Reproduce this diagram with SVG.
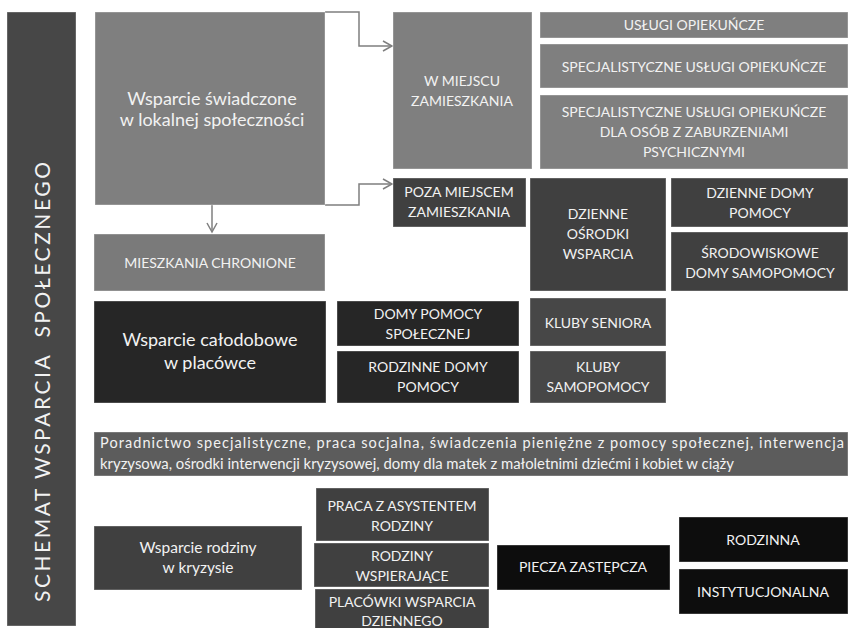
<svg xmlns="http://www.w3.org/2000/svg" width="848" height="628" viewBox="0 0 848 628">
<defs>
<style>
rect{stroke:#ffffff;stroke-opacity:0.35;stroke-width:1}
.l{fill:#7f7f7f}
.m{fill:#5c5c5c}
.d{fill:#404040}
.k{fill:#474747}
.x{fill:#262626}
.b{fill:#0d0d0d}
text{font-family:Lato,"Open Sans","Liberation Sans",sans-serif;fill:#f2f2f2;text-anchor:middle}
.c{font-size:14px}
.big{font-size:18px}
.med{font-size:15.5px}
.just{font-size:14.5px;text-anchor:start}
.conn{fill:none;stroke:#7f7f7f;stroke-width:1.5}
</style>
<marker id="arr" markerWidth="12" markerHeight="12" refX="10" refY="6" orient="auto" markerUnits="userSpaceOnUse">
<path d="M1,1 L10,6 L1,11" fill="none" stroke="#7f7f7f" stroke-width="1.5"/>
</marker>
</defs>

<g id="title">
<rect x="7" y="12" width="69" height="614" fill="#474747"/>
<text transform="translate(50,382) rotate(-90)" style="font-size:21px" textLength="440" lengthAdjust="spacing" xml:space="preserve">SCHEMAT WSPARCIA  SPOŁECZNEGO</text>
</g>

<g id="connectors">
<path class="conn" d="M325,12 H359 V46 H392" marker-end="url(#arr)"/>
<path class="conn" d="M325,205 H359 V184 H392" marker-end="url(#arr)"/>
<path class="conn" d="M212,205 V232" marker-end="url(#arr)"/>
</g>

<g id="lokalna">
<rect class="l" x="95" y="12" width="230" height="193"/>
<text class="big" x="212" y="105">Wsparcie świadczone</text>
<text class="big" x="212" y="126">w lokalnej społeczności</text>
</g>
<g id="mieszkania">
<rect class="l" x="94" y="234" width="231" height="57" style="fill:#7a7a7a"/>
<text class="c" x="210" y="268">MIESZKANIA CHRONIONE</text>
</g>
<g id="w-miejscu">
<rect class="l" x="393" y="12" width="139" height="157"/>
<text class="c" x="462" y="86">W MIEJSCU</text>
<text class="c" x="462" y="106">ZAMIESZKANIA</text>
</g>
<g id="uslugi">
<rect class="l" x="540" y="12" width="308" height="26"/>
<text class="c" x="694" y="30">USŁUGI OPIEKUŃCZE</text>
</g>
<g id="spec">
<rect class="l" x="540" y="44" width="308" height="44"/>
<text class="c" x="694" y="72">SPECJALISTYCZNE USŁUGI OPIEKUŃCZE</text>
</g>
<g id="spec-psych">
<rect class="l" x="540" y="95" width="308" height="74"/>
<text class="c" x="694" y="117">SPECJALISTYCZNE USŁUGI OPIEKUŃCZE</text>
<text class="c" x="694" y="137">DLA OSÓB Z ZABURZENIAMI</text>
<text class="c" x="694" y="157">PSYCHICZNYMI</text>
</g>
<g id="poza">
<rect class="d" x="393" y="178" width="133" height="49"/>
<text class="c" x="459" y="197">POZA MIEJSCEM</text>
<text class="c" x="459" y="217">ZAMIESZKANIA</text>
</g>
<g id="osrodki">
<rect class="d" x="530" y="178" width="136" height="113"/>
<text class="c" x="598" y="219">DZIENNE</text>
<text class="c" x="598" y="239">OŚRODKI</text>
<text class="c" x="598" y="259">WSPARCIA</text>
</g>
<g id="dzienne-domy">
<rect class="d" x="671" y="178" width="177" height="49"/>
<text class="c" x="760" y="198">DZIENNE DOMY</text>
<text class="c" x="760" y="218">POMOCY</text>
</g>
<g id="srodowiskowe">
<rect class="d" x="671" y="232" width="177" height="59"/>
<text class="c" x="760" y="258">ŚRODOWISKOWE</text>
<text class="c" x="760" y="278">DOMY SAMOPOMOCY</text>
</g>
<g id="calodobowe">
<rect class="x" x="94" y="301" width="232" height="102"/>
<text class="big" x="210" y="346">Wsparcie całodobowe</text>
<text class="big" x="210" y="369">w placówce</text>
</g>
<g id="dps">
<rect class="x" x="337" y="301" width="182" height="45"/>
<text class="c" x="428" y="319">DOMY POMOCY</text>
<text class="c" x="428" y="339">SPOŁECZNEJ</text>
</g>
<g id="rdp">
<rect class="x" x="337" y="351" width="182" height="52"/>
<text class="c" x="428" y="372">RODZINNE DOMY</text>
<text class="c" x="428" y="392">POMOCY</text>
</g>
<g id="kluby-seniora">
<rect class="k" x="530" y="298" width="136" height="48"/>
<text class="c" x="598" y="328">KLUBY SENIORA</text>
</g>
<g id="kluby-samopomocy">
<rect class="k" x="530" y="351" width="136" height="52"/>
<text class="c" x="598" y="372">KLUBY</text>
<text class="c" x="598" y="392">SAMOPOMOCY</text>
</g>
<g id="poradnictwo">
<rect class="m" x="94" y="432" width="754" height="44"/>
<text class="just" x="100" y="448" textLength="744" lengthAdjust="spacing">Poradnictwo specjalistyczne, praca socjalna, świadczenia pieniężne z pomocy społecznej, interwencja</text>
<text class="just" x="100" y="469" textLength="634" lengthAdjust="spacingAndGlyphs">kryzysowa, ośrodki interwencji kryzysowej, domy dla matek z małoletnimi dziećmi i kobiet w ciąży</text>
</g>
<g id="rodzina-kryzys">
<rect class="d" x="94" y="526" width="208" height="64"/>
<text class="med" x="198" y="553">Wsparcie rodziny</text>
<text class="med" x="198" y="573">w kryzysie</text>
</g>
<g id="asystent">
<rect class="d" x="316" y="488" width="173" height="53"/>
<text class="c" x="402" y="511">PRACA Z ASYSTENTEM</text>
<text class="c" x="402" y="531">RODZINY</text>
</g>
<g id="wspierajace">
<rect class="d" x="314" y="543" width="175" height="44"/>
<text class="c" x="402" y="561">RODZINY</text>
<text class="c" x="402" y="581">WSPIERAJĄCE</text>
</g>
<g id="placowki">
<rect class="d" x="315" y="589" width="174" height="42"/>
<text class="c" x="402" y="607">PLACÓWKI WSPARCIA</text>
<text class="c" x="402" y="626">DZIENNEGO</text>
</g>
<g id="piecza">
<rect class="b" x="497" y="545" width="173" height="45"/>
<text class="c" x="583" y="572">PIECZA ZASTĘPCZA</text>
</g>
<g id="rodzinna">
<rect class="b" x="679" y="517" width="169" height="45"/>
<text class="c" x="763" y="545">RODZINNA</text>
</g>
<g id="instytucjonalna">
<rect class="b" x="679" y="569" width="169" height="45"/>
<text class="c" x="763" y="597">INSTYTUCJONALNA</text>
</g>
</svg>
